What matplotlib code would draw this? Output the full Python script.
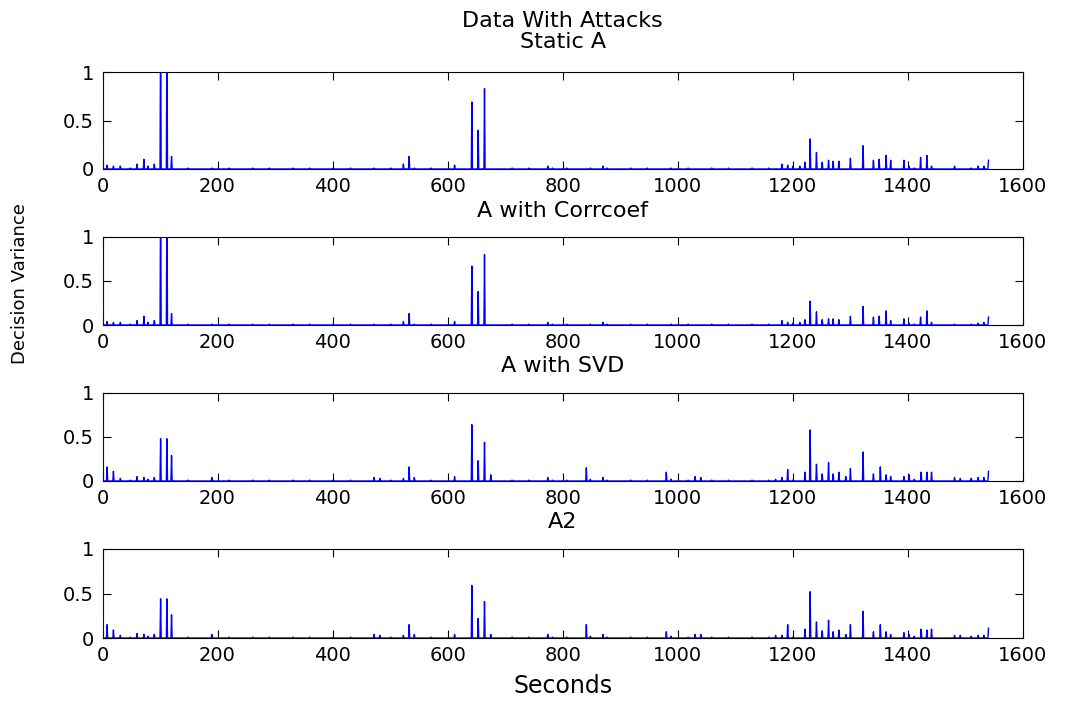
import numpy as np
import matplotlib
matplotlib.use("Agg")
import matplotlib.pyplot as plt

# spike positions (seconds) and decision variance values
static_pos = [0, 8, 19, 31, 48, 60, 72, 79, 90, 101, 112, 120, 149, 190, 220, 261,
              290, 331, 360, 401, 431, 472, 501, 523, 533, 542, 571, 612, 642, 653,
              664, 712, 741, 774, 782, 807, 848, 870, 877, 918, 947, 988, 1018, 1059,
              1088, 1129, 1158, 1181, 1191, 1200, 1212, 1221, 1230, 1241, 1251, 1262,
              1270, 1280, 1300, 1322, 1340, 1350, 1362, 1370, 1393, 1402, 1411, 1422,
              1433, 1441, 1481, 1510, 1522, 1532, 1540]
static_val = [1.5, 0.04, 0.03, 0.03, 0.01, 0.05, 0.10, 0.03, 0.05, 1.5, 1.5, 0.13, 0.01, 0.01, 0.01, 0.01,
              0.01, 0.01, 0.01, 0.01, 0.01, 0.01, 0.01, 0.05, 0.13, 0.01, 0.01, 0.04, 0.69, 0.40,
              0.83, 0.01, 0.01, 0.03, 0.01, 0.01, 0.01, 0.03, 0.01, 0.01, 0.01, 0.01, 0.01, 0.01,
              0.01, 0.01, 0.01, 0.05, 0.04, 0.03, 0.03, 0.07, 0.31, 0.17, 0.07, 0.09,
              0.08, 0.08, 0.11, 0.24, 0.09, 0.10, 0.14, 0.09, 0.09, 0.03, 0.01, 0.12,
              0.14, 0.03, 0.03, 0.01, 0.03, 0.03, 0.09]

corr_pos = static_pos
corr_val = [1.5, 0.04, 0.03, 0.03, 0.01, 0.05, 0.10, 0.03, 0.05, 1.5, 1.5, 0.13, 0.01, 0.01, 0.01, 0.01,
            0.01, 0.01, 0.01, 0.01, 0.01, 0.01, 0.01, 0.04, 0.13, 0.01, 0.01, 0.04, 0.67, 0.38,
            0.80, 0.01, 0.01, 0.03, 0.01, 0.01, 0.01, 0.03, 0.01, 0.01, 0.01, 0.01, 0.01, 0.01,
            0.01, 0.01, 0.01, 0.05, 0.03, 0.02, 0.03, 0.06, 0.27, 0.15, 0.06, 0.07,
            0.07, 0.06, 0.10, 0.21, 0.09, 0.10, 0.16, 0.05, 0.07, 0.02, 0.01, 0.09,
            0.16, 0.03, 0.01, 0.01, 0.02, 0.03, 0.09]

svd_pos = [0, 8, 19, 31, 48, 60, 72, 79, 90, 101, 112, 120, 149, 190, 220, 261,
           290, 331, 360, 401, 431, 472, 482, 501, 523, 533, 542, 571, 612, 642, 653,
           664, 675, 712, 741, 774, 782, 807, 841, 848, 870, 877, 918, 947, 980, 988,
           1018, 1030, 1040, 1059, 1088, 1129, 1158, 1170, 1181, 1191, 1200, 1221, 1230,
           1241, 1251, 1262, 1270, 1280, 1292, 1300, 1322, 1340, 1352, 1362, 1370, 1393,
           1402, 1411, 1423, 1433, 1441, 1481, 1491, 1510, 1522, 1532, 1540]
svd_val = [1.5, 0.16, 0.11, 0.03, 0.01, 0.05, 0.04, 0.02, 0.04, 0.48, 0.48, 0.29, 0.01, 0.04, 0.01, 0.01,
           0.01, 0.01, 0.01, 0.01, 0.01, 0.04, 0.03, 0.01, 0.03, 0.16, 0.04, 0.01, 0.05, 0.64, 0.23,
           0.44, 0.07, 0.01, 0.01, 0.04, 0.01, 0.01, 0.15, 0.02, 0.04, 0.01, 0.01, 0.01, 0.10, 0.02,
           0.01, 0.05, 0.04, 0.01, 0.01, 0.01, 0.01, 0.02, 0.04, 0.13, 0.01, 0.10, 0.58,
           0.19, 0.08, 0.21, 0.08, 0.10, 0.05, 0.14, 0.33, 0.08, 0.16, 0.07, 0.05, 0.05,
           0.07, 0.02, 0.10, 0.10, 0.10, 0.04, 0.03, 0.03, 0.04, 0.04, 0.11]

a2_pos = svd_pos
a2_val = [1.5, 0.15, 0.09, 0.03, 0.01, 0.05, 0.04, 0.02, 0.04, 0.44, 0.44, 0.26, 0.01, 0.04, 0.01, 0.01,
          0.01, 0.01, 0.01, 0.01, 0.01, 0.04, 0.03, 0.01, 0.03, 0.15, 0.04, 0.01, 0.04, 0.59, 0.22,
          0.41, 0.04, 0.01, 0.01, 0.04, 0.01, 0.01, 0.15, 0.02, 0.04, 0.01, 0.01, 0.01, 0.07, 0.02,
          0.01, 0.04, 0.04, 0.01, 0.01, 0.01, 0.01, 0.03, 0.03, 0.15, 0.01, 0.10, 0.52,
          0.18, 0.08, 0.20, 0.07, 0.09, 0.04, 0.15, 0.30, 0.07, 0.15, 0.07, 0.04, 0.06,
          0.04, 0.02, 0.10, 0.09, 0.10, 0.03, 0.03, 0.02, 0.03, 0.03, 0.11]

titles = ["Static A", "A with Corrcoef", "A with SVD", "A2"]
series = [(static_pos, static_val), (corr_pos, corr_val), (svd_pos, svd_val), (a2_pos, a2_val)]
x_ticks = [0, 200, 400, 600, 800, 1000, 1200, 1400, 1600]
y_ticks = [0, 0.5, 1]
y_ticklabels = ["0", "0.5", "1"]
t_end = 1541

W, H = 1065, 702
# axes boxes in pixels: (top, bottom)
boxes = [(72, 169), (237, 325), (393, 481), (549, 638)]
left, right = 102.5, 1023

plt.rcParams["font.family"] = "DejaVu Sans"
fig = plt.figure(figsize=(W / 100, H / 100), dpi=100)

title_base = [48, 217, 372, 528]
for i, ((pos, val), (top, bot)) in enumerate(zip(series, boxes)):
    ax = fig.add_axes([left / W, 1 - bot / H, (right - left) / W, (bot - top) / H])
    t = np.arange(t_end)
    y = np.zeros(t_end)
    y[np.array(pos)] = val
    ax.plot(t, y, color="#0000ff", linewidth=1.0, zorder=3)
    ax.set_xlim(0, 1600)
    ax.set_ylim(0, 1)
    ax.set_xticks(x_ticks)
    ax.set_yticks(y_ticks)
    ax.set_yticklabels(y_ticklabels)
    ax.tick_params(direction="in", top=True, right=True, length=6, width=0.8,
                   labelsize=14, pad=6)
    for s in ax.spines.values():
        s.set_linewidth(0.8)
    fig.text((left + right) / 2 / W, 1 - title_base[i] / H, titles[i],
             ha="center", va="baseline", fontsize=16)

fig.text((left + right) / 2 / W, 1 - 27 / H, "Data With Attacks",
         ha="center", va="baseline", fontsize=16)
fig.text((left + right) / 2 / W, 1 - 693 / H, "Seconds",
         ha="center", va="baseline", fontsize=17)
fig.text(20 / W, 1 - 284 / H, "Decision Variance", rotation=90,
         ha="center", va="center", fontsize=13)

fig.savefig("out.png", dpi=100)
